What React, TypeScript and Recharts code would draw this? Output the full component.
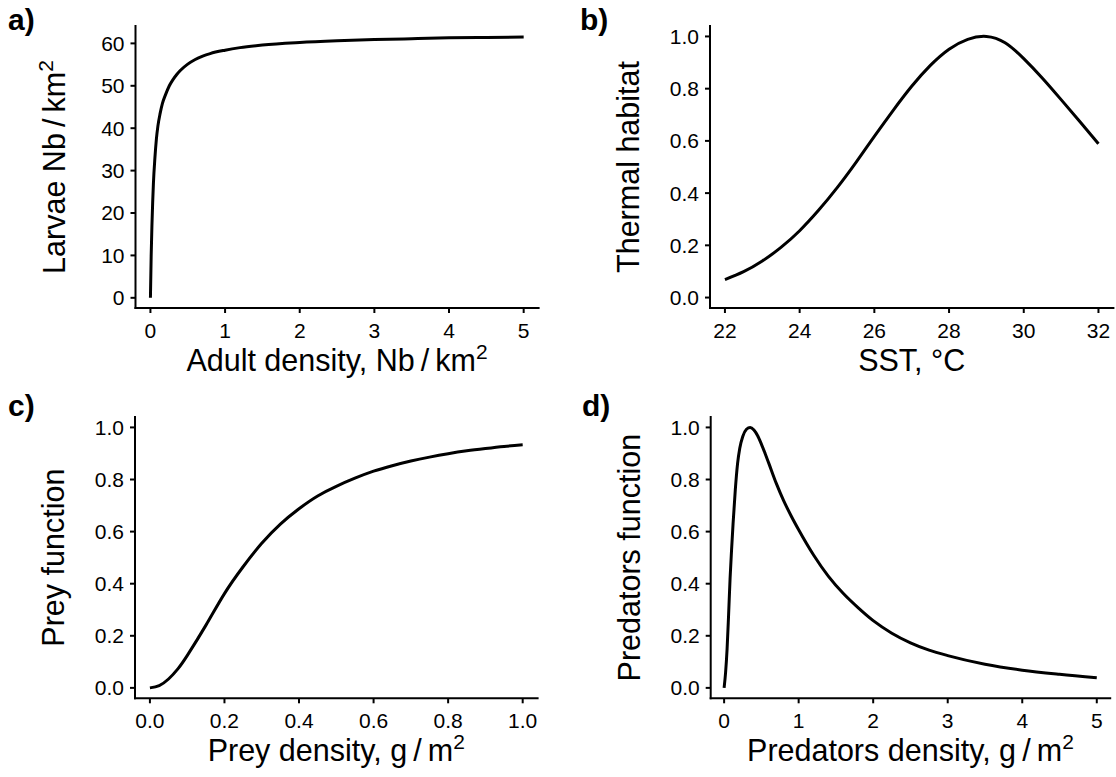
import React from "react";
import { LineChart, Line, XAxis, YAxis, Label } from "recharts";

// a) larvae vs adult density
const adultDensity = [0, 0.01, 0.02, 0.03, 0.04, 0.06, 0.08, 0.1, 0.13, 0.16, 0.2, 0.25, 0.3, 0.35, 0.4, 0.5, 0.6, 0.7, 0.8, 1, 1.2, 1.5, 2, 2.5, 3, 3.5, 4, 4.5, 5];
const larvaeNb = [0, 10, 17, 22.5, 27, 33, 37.5, 40.5, 43.5, 45.8, 47.8, 49.9, 51.4, 52.6, 53.6, 55.1, 56.2, 57.0, 57.6, 58.4, 59.0, 59.6, 60.2, 60.6, 60.9, 61.1, 61.3, 61.4, 61.5];

// b) thermal habitat vs SST
const sst = [22, 22.5, 23, 23.5, 24, 24.5, 25, 25.5, 26, 26.5, 27, 27.5, 28, 28.5, 29, 29.5, 30, 30.5, 31, 31.5, 32];
const thermalHabitat = [0.069, 0.099, 0.14, 0.192, 0.256, 0.333, 0.42, 0.516, 0.617, 0.716, 0.809, 0.889, 0.951, 0.989, 1.0, 0.976, 0.915, 0.84, 0.758, 0.674, 0.589];

// c) prey function
const preyDensity = [0, 0.025, 0.05, 0.075, 0.1, 0.15, 0.2, 0.25, 0.3, 0.35, 0.4, 0.45, 0.5, 0.55, 0.6, 0.65, 0.7, 0.75, 0.8, 0.85, 0.9, 0.95, 1];
const preyFunction = [0, 0.009, 0.034, 0.073, 0.124, 0.24, 0.362, 0.465, 0.555, 0.629, 0.688, 0.737, 0.774, 0.805, 0.832, 0.853, 0.871, 0.886, 0.899, 0.91, 0.919, 0.927, 0.933];

// d) predators function
const predatorDensity = [0, 0.02, 0.04, 0.06, 0.08, 0.1, 0.12, 0.15, 0.18, 0.21, 0.25, 0.3, 0.35, 0.4, 0.45, 0.5, 0.55, 0.6, 0.7, 0.8, 0.9, 1, 1.2, 1.4, 1.6, 1.8, 2, 2.25, 2.5, 2.75, 3, 3.5, 4, 4.5, 5];
const predatorFunction = [0, 0.06, 0.15, 0.28, 0.42, 0.53, 0.63, 0.76, 0.86, 0.92, 0.965, 0.993, 1.0, 0.99, 0.968, 0.936, 0.9, 0.862, 0.785, 0.718, 0.66, 0.607, 0.51, 0.428, 0.362, 0.307, 0.258, 0.21, 0.173, 0.145, 0.124, 0.091, 0.068, 0.052, 0.039];

// tick labels
const densityTicks = [0, 1, 2, 3, 4, 5];
const larvaeTicks = [0, 10, 20, 30, 40, 50, 60];
const sstTicks = [22, 24, 26, 28, 30, 32];
const unitTicks = [0, 0.2, 0.4, 0.6, 0.8, 1];

const FONT = "'Liberation Sans', Arial, Helvetica, sans-serif";
const PANEL_W = 558;
const PANEL_H = 389;

type Part = { t: string; sup?: boolean };

const zip = (xs: number[], ys: number[]) => xs.map((x, i) => ({ x, y: ys[i] }));
const int = (v: number) => String(v);
const dec = (v: number) => v.toFixed(1);

const panels = [
  {
    tag: "a)", left: 0, top: 0, tagX: 8, tagY: 30, curve: "monotone",
    plotLeft: 135.5, plotTop: 26, plotBottom: 308, plotRight: 538.6,
    xDomain: [-0.2, 5.2], yDomain: [-2.4, 64.1],
    xTicks: densityTicks, yTicks: larvaeTicks, xFmt: int, yFmt: int,
    xTitle: [{ t: "Adult density, Nb\u2009/\u2009km" }, { t: "2", sup: true }],
    yTitle: [{ t: "Larvae Nb\u2009/\u2009km" }, { t: "2", sup: true }],
    data: zip(adultDensity, larvaeNb),
  },
  {
    tag: "b)", left: 558, top: 0, tagX: 22, tagY: 30, curve: "natural",
    plotLeft: 152, plotTop: 26, plotBottom: 308, plotRight: 555.4,
    xDomain: [21.6, 32.4], yDomain: [-0.04, 1.04],
    xTicks: sstTicks, yTicks: unitTicks, xFmt: int, yFmt: dec,
    xTitle: [{ t: "SST, \u00B0C" }],
    yTitle: [{ t: "Thermal habitat" }],
    data: zip(sst, thermalHabitat),
  },
  {
    tag: "c)", left: 0, top: 388, tagX: 8, tagY: 28, curve: "natural",
    plotLeft: 135, plotTop: 29, plotBottom: 310.3, plotRight: 537.6,
    xDomain: [-0.04, 1.04], yDomain: [-0.04, 1.04],
    xTicks: unitTicks, yTicks: unitTicks, xFmt: dec, yFmt: dec,
    xTitle: [{ t: "Prey density, g\u2009/\u2009m" }, { t: "2", sup: true }],
    yTitle: [{ t: "Prey function" }],
    data: zip(preyDensity, preyFunction),
  },
  {
    tag: "d)", left: 558, top: 388, tagX: 24, tagY: 28, curve: "monotone",
    plotLeft: 152.7, plotTop: 29, plotBottom: 310.3, plotRight: 552.2,
    xDomain: [-0.18, 5.18], yDomain: [-0.04, 1.04],
    xTicks: densityTicks, yTicks: unitTicks, xFmt: int, yFmt: dec,
    xTitle: [{ t: "Predators density, g\u2009/\u2009m" }, { t: "2", sup: true }],
    yTitle: [{ t: "Predators function" }],
    data: zip(predatorDensity, predatorFunction),
  },
];

const renderParts = (parts: Part[]) =>
  parts.map((p, i) =>
    p.sup ? (
      <tspan key={i} dy={-12} fontSize={21}>{p.t}</tspan>
    ) : (
      <tspan key={i}>{p.t}</tspan>
    )
  );

const Panel = ({ p }: { p: any }) => {
  const xTitle = () => (
    <text
      x={(p.plotLeft + p.plotRight) / 2}
      y={p.plotBottom + 63}
      textAnchor="middle"
      fontSize={30.5}
      fontFamily={FONT}
      fill="#000"
    >
      {renderParts(p.xTitle)}
    </text>
  );
  const yTitle = () => (
    <text
      transform={`translate(${p.plotLeft - 71}, ${(p.plotTop + p.plotBottom) / 2}) rotate(-90)`}
      textAnchor="middle"
      fontSize={30.5}
      fontFamily={FONT}
      fill="#000"
    >
      {renderParts(p.yTitle)}
    </text>
  );

  const tick = { fontSize: 21, fontFamily: FONT, fill: "#000" };
  const line = { stroke: "#000", strokeWidth: 2, strokeLinecap: "square" as const };

  return (
    <div style={{ position: "absolute", left: p.left, top: p.top, width: PANEL_W, height: PANEL_H }}>
      <LineChart
        width={PANEL_W}
        height={PANEL_H}
        data={p.data}
        margin={{ top: p.plotTop, right: PANEL_W - p.plotRight, bottom: 0, left: 0 }}
      >
        <XAxis
          type="number"
          dataKey="x"
          domain={p.xDomain}
          ticks={p.xTicks}
          tickFormatter={p.xFmt}
          allowDataOverflow
          interval={0}
          height={PANEL_H - p.plotBottom}
          tick={tick}
          tickSize={5}
          tickMargin={10}
          axisLine={line}
          tickLine={{ stroke: "#000", strokeWidth: 2 }}
        >
          <Label content={xTitle} />
        </XAxis>
        <YAxis
          type="number"
          domain={p.yDomain}
          ticks={p.yTicks}
          tickFormatter={p.yFmt}
          allowDataOverflow
          interval={0}
          width={p.plotLeft}
          tick={tick}
          tickSize={5}
          tickMargin={6}
          axisLine={line}
          tickLine={{ stroke: "#000", strokeWidth: 2 }}
        >
          <Label content={yTitle} />
        </YAxis>
        <Line
          type={p.curve}
          dataKey="y"
          stroke="#000"
          strokeWidth={3}
          dot={false}
          activeDot={false}
          isAnimationActive={false}
        />
      </LineChart>
      <svg width={80} height={44} style={{ position: "absolute", left: 0, top: 0, pointerEvents: "none" }}>
        <text x={p.tagX} y={p.tagY} fontSize={30} fontWeight="bold" fontFamily={FONT} fill="#000">
          {p.tag}
        </text>
      </svg>
    </div>
  );
};

export default function App() {
  return (
    <div style={{ position: "absolute", left: 0, top: 0, width: 1116, height: 777, background: "#fff" }}>
      {panels.map((p) => (
        <Panel key={p.tag} p={p} />
      ))}
    </div>
  );
}
